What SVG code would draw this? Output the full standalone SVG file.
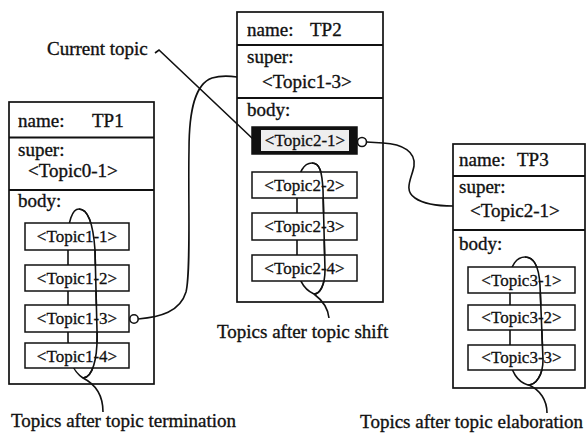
<svg xmlns="http://www.w3.org/2000/svg" width="587" height="433" viewBox="0 0 587 433">
<style>
.frame{fill:none;stroke:#111;stroke-width:1.7}
.div{stroke:#111;stroke-width:1.8}
.tb{fill:#fff;stroke:#111;stroke-width:1.5}
.t{font-family:"Liberation Serif","Times New Roman",serif;font-size:19px;fill:#111;stroke:#111;stroke-width:0.35}
.l{font-family:"Liberation Serif","Times New Roman",serif;font-size:17px;fill:#111;stroke:#111;stroke-width:0.3;text-anchor:middle}
.w{fill:none;stroke:#111;stroke-width:1.6}
.c{fill:#fff;stroke:#111;stroke-width:1.6}
</style>
<rect width="587" height="433" fill="#fff"/>
<g id="loops-under">
<path class="w" d="M83,378 C74,372 68,362 68,340 L68,240 C68,222 72,209 79,209 C88,209 93,222 95,250 L97,330 C98,360 92,378 83,378 Z"/>
<path class="w" d="M314,294 C305,290 297,280 297,260 L297,190 C298,172 304,163 312,163 C320,163 322,172 323,190 L325,270 C325,285 320,294 314,294 Z"/>
<path class="w" d="M528,385 C518,382 510,372 510,355 L510,280 C510,265 517,257 525,257 C534,257 539,268 540,285 L543,360 C543,375 536,385 528,385 Z"/>
</g>
<g id="TP1">
<rect class="frame" x="9" y="102" width="145" height="282"/>
<line class="div" x1="9" y1="137.5" x2="154" y2="137.5"/>
<line class="div" x1="9" y1="190" x2="154" y2="190"/>
<text class="t" x="18" y="127">name:</text>
<text class="t" x="92" y="127">TP1</text>
<text class="t" x="18" y="156">super:</text>
<text class="t" x="28" y="177">&lt;Topic0-1&gt;</text>
<text class="t" x="18" y="207">body:</text>
<rect class="tb" x="25" y="223" width="104" height="27"/>
<text class="l" x="77" y="242">&lt;Topic1-1&gt;</text>
<rect class="tb" x="25" y="265" width="104" height="26"/>
<text class="l" x="77" y="284">&lt;Topic1-2&gt;</text>
<rect class="tb" x="25" y="305" width="104" height="27"/>
<text class="l" x="77" y="324">&lt;Topic1-3&gt;</text>
<rect class="tb" x="25" y="343" width="104" height="25"/>
<text class="l" x="77" y="362">&lt;Topic1-4&gt;</text>
</g>
<g id="TP2">
<rect class="frame" x="237" y="12" width="146" height="290"/>
<line class="div" x1="237" y1="45" x2="383" y2="45"/>
<line class="div" x1="237" y1="98" x2="383" y2="98"/>
<text class="t" x="247" y="36">name:</text>
<text class="t" x="310" y="36">TP2</text>
<text class="t" x="247" y="63">super:</text>
<text class="t" x="262" y="88">&lt;Topic1-3&gt;</text>
<text class="t" x="247" y="116">body:</text>
<rect x="252" y="127" width="105" height="27" fill="#111" stroke="#111" stroke-width="1.5"/>
<rect x="261" y="130" width="88" height="21" fill="#eeeeee"/>
<text class="l" x="305" y="146">&lt;Topic2-1&gt;</text>
<rect class="tb" x="252" y="172" width="105" height="26"/>
<text class="l" x="304.5" y="191">&lt;Topic2-2&gt;</text>
<rect class="tb" x="252" y="213" width="105" height="27"/>
<text class="l" x="304.5" y="232">&lt;Topic2-3&gt;</text>
<rect class="tb" x="252" y="255" width="105" height="26"/>
<text class="l" x="304.5" y="274">&lt;Topic2-4&gt;</text>
</g>
<g id="TP3">
<rect class="frame" x="453" y="144" width="132" height="244"/>
<line class="div" x1="453" y1="176" x2="585" y2="176"/>
<line class="div" x1="453" y1="230" x2="585" y2="230"/>
<text class="t" x="459" y="166">name:</text>
<text class="t" x="517" y="166">TP3</text>
<text class="t" x="459" y="193">super:</text>
<text class="t" x="470" y="217">&lt;Topic2-1&gt;</text>
<text class="t" x="459" y="250">body:</text>
<rect class="tb" x="468" y="267" width="107" height="26"/>
<text class="l" x="521.5" y="286">&lt;Topic3-1&gt;</text>
<rect class="tb" x="468" y="305" width="107" height="25"/>
<text class="l" x="521.5" y="323">&lt;Topic3-2&gt;</text>
<rect class="tb" x="468" y="345" width="107" height="25"/>
<text class="l" x="521.5" y="363">&lt;Topic3-3&gt;</text>
</g>
<g id="connectors">
<path class="w" d="M79,209 C88,209 93,222 95,250 L97,330 C98,360 92,378 83,378"/>
<path class="w" d="M312,163 C320,163 322,172 323,190 L325,270 C325,285 320,294 314,294"/>
<path class="w" d="M525,257 C534,257 539,268 540,285 L543,360 C543,375 536,385 528,385"/>
<path class="w" d="M83,378 C95,384 103,395 103,412"/>
<path class="w" d="M314,294 C322,300 328,308 329,318"/>
<path class="w" d="M529,385 C540,390 547,400 547,413"/>
<path class="w" d="M155,53 L159,50 L253,139"/>
<path class="w" d="M138.2,319 C160,317 180,312 186,292 C191,272 188,200 189,150 C189,110 195,84 212,78 C222,75 230,76 237,77"/>
<circle class="c" cx="134" cy="319" r="4.2"/>
<path class="w" d="M366.5,142 L383,143 C403,144 416,152 414,166 C412,178 403,190 415,198 C425,205 440,206 453,206"/>
<circle class="c" cx="362" cy="142" r="4.5"/>
</g>
<g id="labels">
<text class="t" x="47" y="55">Current topic</text>
<text class="t" x="11" y="427">Topics after topic termination</text>
<text class="t" x="217" y="338">Topics after topic shift</text>
<text class="t" x="583" y="428" text-anchor="end">Topics after topic elaboration</text>
</g>
</svg>
